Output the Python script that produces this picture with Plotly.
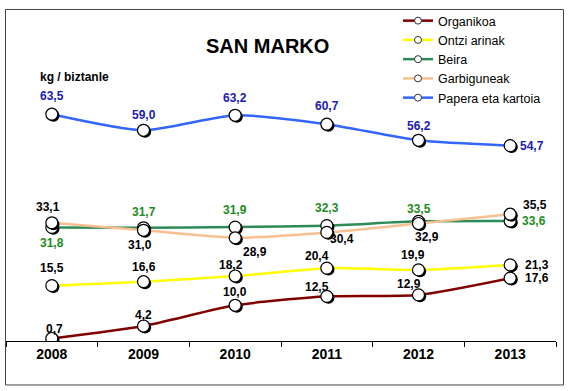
import plotly.graph_objects as go

years = ["2008", "2009", "2010", "2011", "2012", "2013"]
organikoa = [0.7, 4.2, 10.0, 12.5, 12.9, 17.6]
ontzi = [15.5, 16.6, 18.2, 20.4, 19.9, 21.3]
beira = [31.8, 31.7, 31.9, 32.3, 33.5, 33.6]
garbiguneak = [33.1, 31.0, 28.9, 30.4, 32.9, 35.5]
papera = [63.5, 59.0, 63.2, 60.7, 56.2, 54.7]
names = ["Organikoa", "Ontzi arinak", "Beira", "Garbiguneak", "Papera eta kartoia"]
series = [organikoa, ontzi, beira, garbiguneak, papera]

colors = ["#800000", "#FFFF00", "#2E8B57", "#F8C090", "#3366FF"]
label_colors = ["#000000", "#000000", "#1E8C1E", "#000000", "#2020B0"]
# label pixel offsets (xshift, yshift) per series per point
offsets = [
    [(3, 10), (0, 11), (0, 13), (-10, 9), (-10, 11), (27, 0)],
    [(0, 18), (0, 15), (-4, 11), (-10, 12), (-6, 15), (27, 0)],
    [(0, -16), (0, 16), (0, 17), (0, 18), (0, 12), (24, 0)],
    [(-4, 16), (-4, -15), (20, -14), (15, -7), (8, -13), (25, 9)],
    [(0, 18), (0, 15), (0, 17), (0, 18), (0, 14), (22, 0)],
]

W, H = 570, 391
L, R, T, B = 6, 14, 88, 50
pw, ph = W - L - R, H - T - B


def px(x):
    return (x - L) / pw


def py(y):
    return (H - B - y) / ph


FONT = "Liberation Sans, Arial"
xi = list(range(len(years)))
bounds = [i - 0.5 for i in range(len(years) + 1)]

fig = go.Figure()
for name, vals, c in zip(names, series, colors):
    fig.add_trace(go.Scatter(
        x=xi, y=vals, mode="lines", showlegend=False, hoverinfo="skip",
        line=dict(color=c, width=2.5, shape="spline", smoothing=0.6)))
    # marker shadow
    fig.add_trace(go.Scatter(
        x=[v + 0.018 for v in xi], y=[v - 0.4 for v in vals], mode="markers",
        showlegend=False, hoverinfo="skip",
        marker=dict(symbol="circle", size=12, color="black",
                    line=dict(width=0))))
    fig.add_trace(go.Scatter(
        x=xi, y=vals, mode="markers", showlegend=False, name=name,
        marker=dict(symbol="circle", size=12, color="white",
                    line=dict(color="black", width=1.2))))

for name, c in zip(names, colors):
    fig.add_trace(go.Scatter(
        x=[None], y=[None], name=name, mode="lines+markers",
        line=dict(color=c, width=2.5),
        marker=dict(symbol="circle", size=7, color="white",
                    line=dict(color="#333333", width=1))))

ann = []
for vals, lc, offs in zip(series, label_colors, offsets):
    for i, (v, (dx, dy)) in enumerate(zip(vals, offs)):
        ann.append(dict(x=i, y=v, xref="x", yref="y",
                        text=f"{v:.1f}".replace(".", ","), showarrow=False,
                        xshift=dx, yshift=dy,
                        font=dict(family=FONT, size=12, color=lc, weight="bold")))

ann.append(dict(x=px(267), y=py(29), xref="paper", yref="paper",
                text="SAN MARKO", showarrow=False,
                font=dict(family=FONT, size=20, color="black", weight="bold")))
ann.append(dict(x=px(38), y=py(65), xref="paper", yref="paper",
                xanchor="left", text="kg / biztanle", showarrow=False,
                font=dict(family=FONT, size=12, color="black", weight="bold")))

fig.update_layout(
    width=W, height=H,
    margin=dict(l=L, r=R, t=T, b=B),
    paper_bgcolor="white", plot_bgcolor="white",
    showlegend=True,
    legend=dict(x=px(398), y=py(2), xanchor="left", yanchor="top",
                font=dict(family=FONT, size=12.5, color="black"),
                bgcolor="rgba(0,0,0,0)", itemwidth=30, tracegroupgap=0),
    annotations=ann,
    shapes=[dict(type="rect", xref="paper", yref="paper",
                 x0=px(5.5), x1=px(563.5), y0=py(385.5), y1=py(5.5),
                 line=dict(color="#444444", width=1))],
    xaxis=dict(range=[-0.5, 5.5], showline=True,
               linecolor="black", linewidth=1,
               tickmode="array", tickvals=xi, ticktext=years, ticks="",
               minor=dict(tickmode="array", tickvals=bounds, ticks="outside",
                          ticklen=5, tickcolor="black", showgrid=False),
               showgrid=False, zeroline=False,
               tickfont=dict(family=FONT, size=14, color="black", weight="bold")),
    yaxis=dict(range=[0, 70], showgrid=False, zeroline=False,
               showticklabels=False, showline=False, ticks=""),
)

fig.write_html("out.html", config={"displayModeBar": False},
               post_script="document.body.style.margin='0';document.body.style.padding='0';")
